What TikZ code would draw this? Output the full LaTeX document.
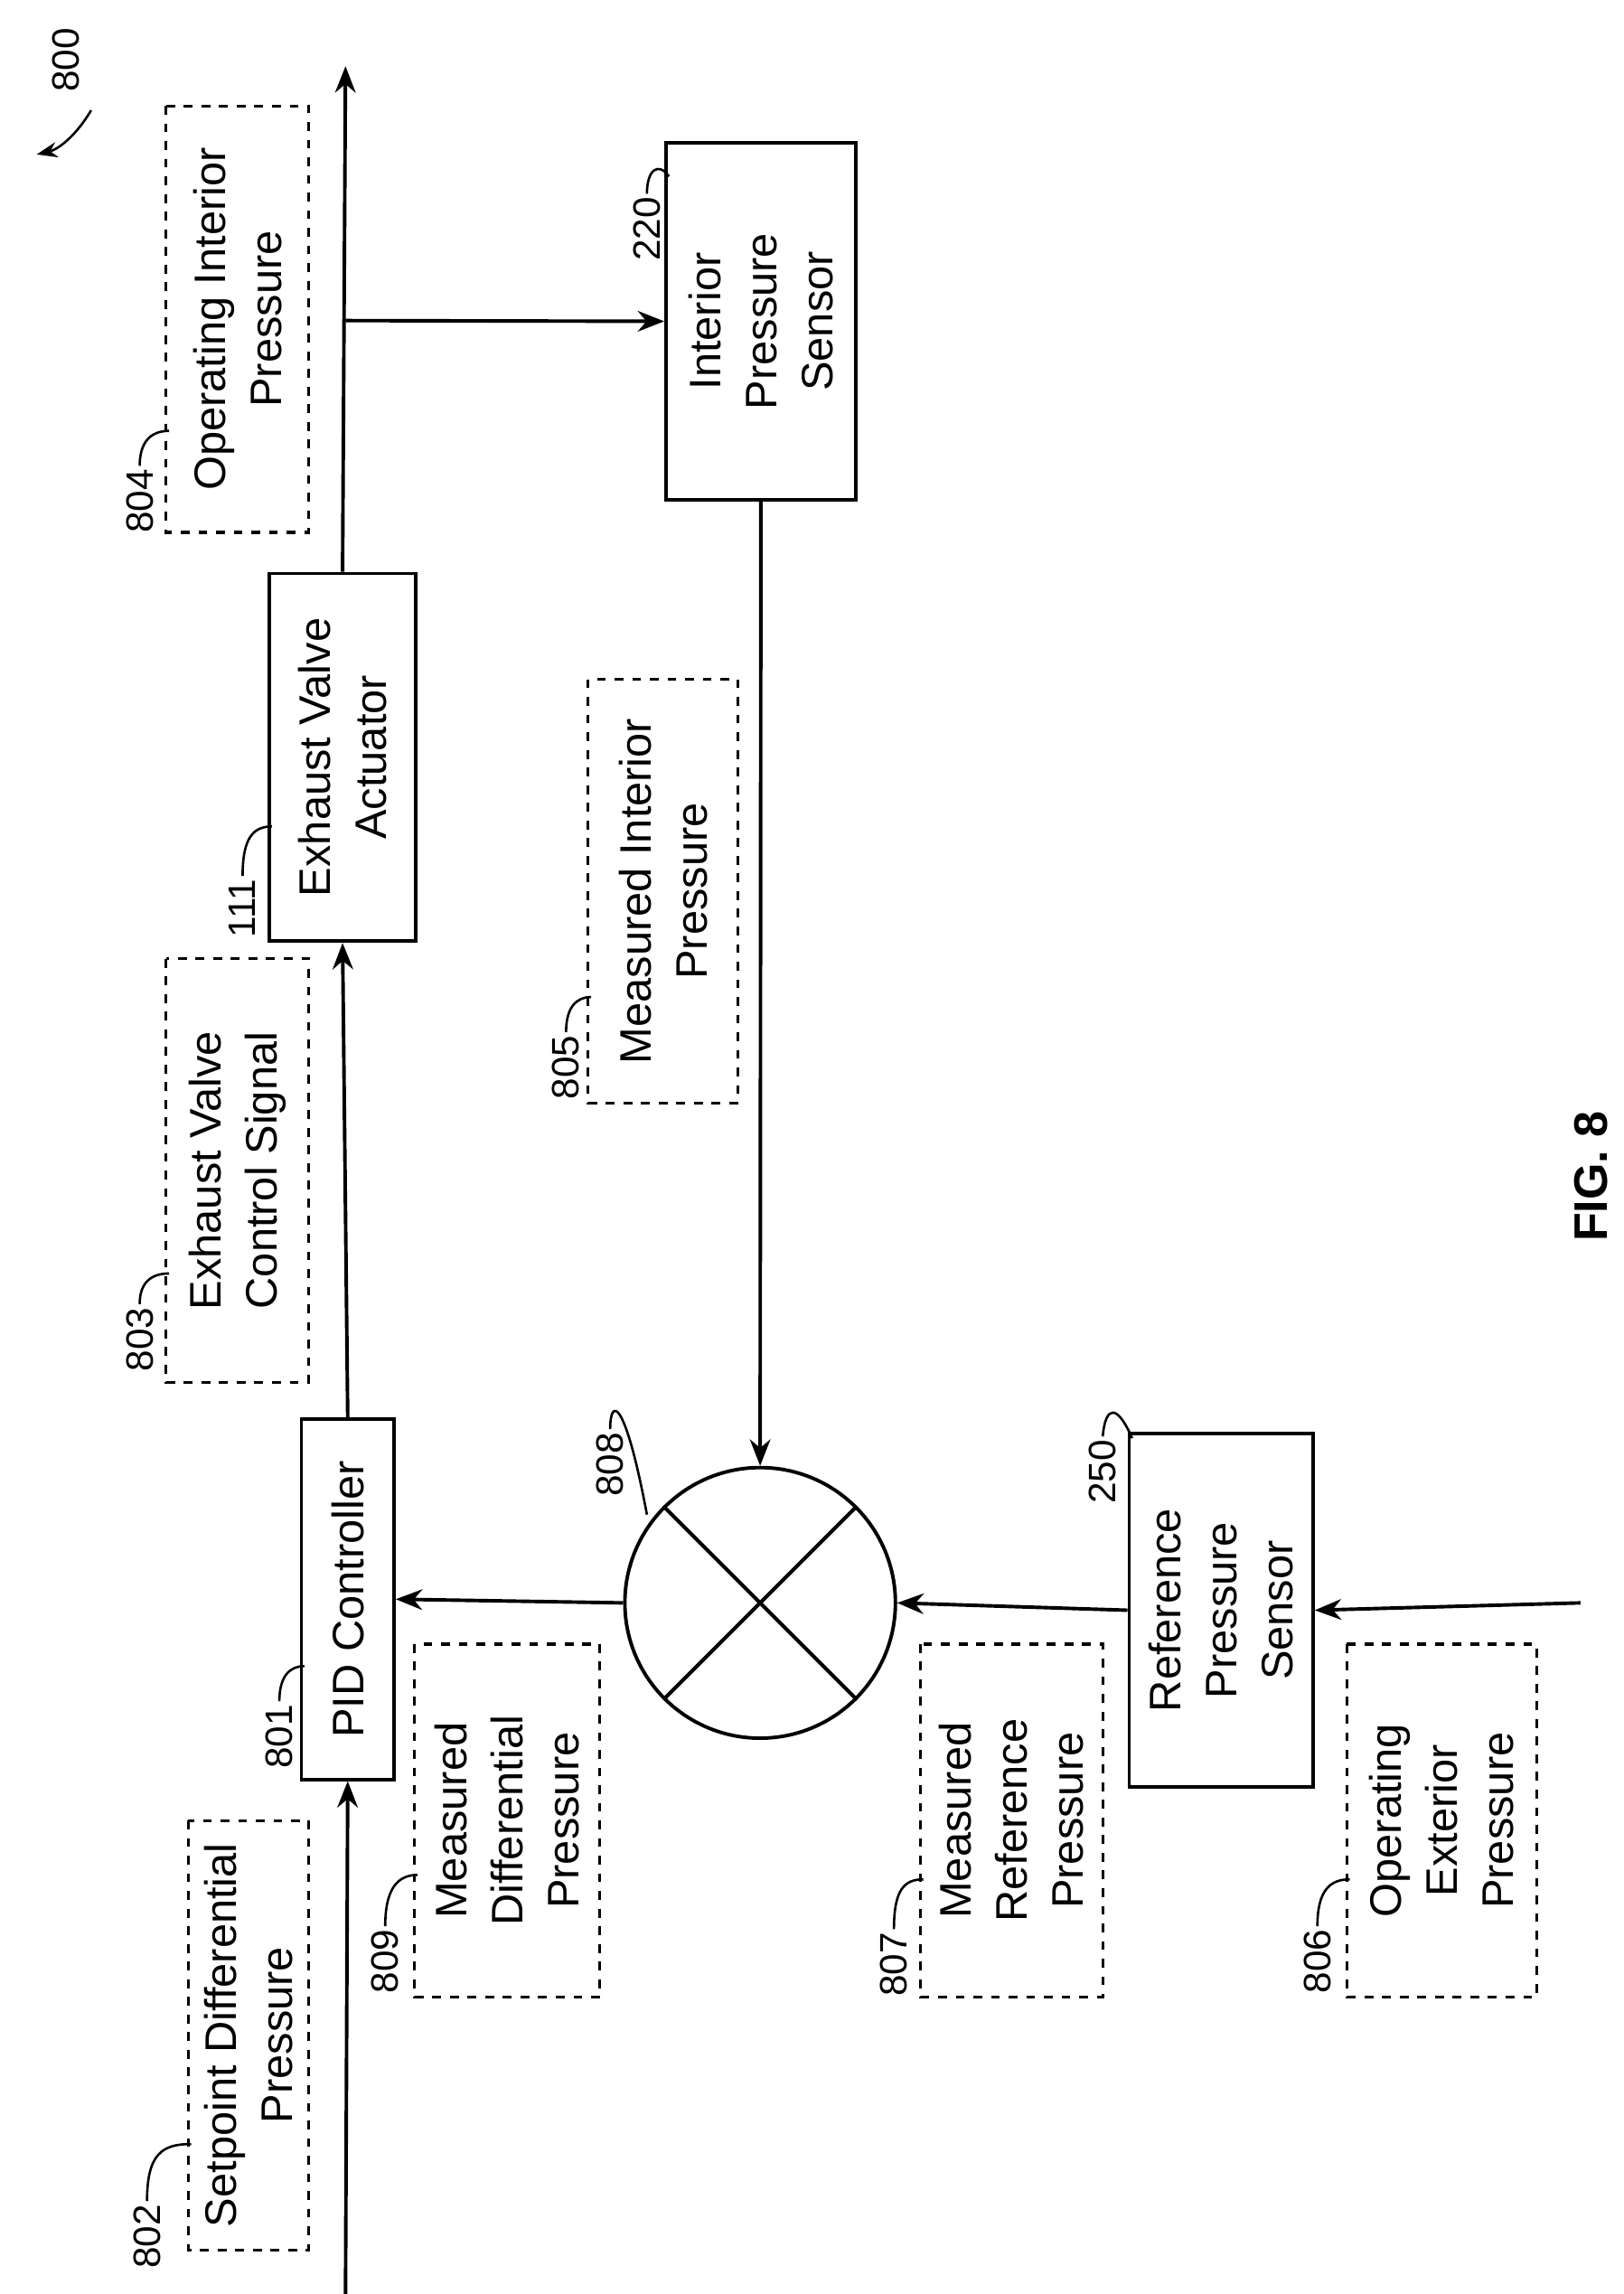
\documentclass[tikz,border=0pt]{standalone}
\usepackage{fontspec}
\setmainfont{Liberation Sans}
\usetikzlibrary{arrows.meta}
\begin{document}
\begin{tikzpicture}[x=0.5pt,y=-0.5pt,
  blk/.style={draw,line width=1.2pt,fill=white},
  dsh/.style={draw,dashed,line width=1pt},
  txt/.style={rotate=90,align=center,font=\fontsize{15}{19}\selectfont},
  num/.style={rotate=90,font=\fontsize{13}{15}\selectfont,inner sep=1pt},
  lead/.style={line width=0.8pt},
  arr/.style={line width=1.2pt,-{Stealth[length=9pt,width=7pt]}},
  ln/.style={line width=1.2pt}]
\useasboundingbox (0,0) rectangle (1104,1560);
% dashed boxes
\draw[dsh] (128,1238) rectangle (210,1530) node[midway,txt] (t802) {Setpoint Differential\\Pressure};
\draw[dsh] (282,1118) rectangle (408,1358) node[midway,txt] (t809) {Measured\\Differential\\Pressure};
\draw[dsh] (626,1118) rectangle (750,1358) node[midway,txt] (t807) {Measured\\Reference\\Pressure};
\draw[dsh] (916,1118) rectangle (1045,1358) node[midway,txt] (t806) {Operating\\Exterior\\Pressure};
\draw[dsh] (113,652) rectangle (210,940) node[midway,txt] (t803) {Exhaust Valve\\Control Signal};
\draw[dsh] (400,462) rectangle (502,750) node[midway,txt] (t805) {Measured Interior\\Pressure};
\draw[dsh] (113,72) rectangle (210,362) node[midway,txt] (t804) {Operating Interior\\Pressure};
% blocks
\node[blk,minimum width=245pt*0.5,minimum height=63pt*0.5,txt] (pid) at (236.5,1087.5) {PID Controller};
\node[blk,minimum width=250pt*0.5,minimum height=100pt*0.5,txt] (eva) at (233,515) {Exhaust Valve\\Actuator};
\node[blk,minimum width=243pt*0.5,minimum height=129pt*0.5,txt] (ips) at (517.5,218.5) {Interior\\Pressure\\Sensor};
\node[blk,minimum width=240pt*0.5,minimum height=125pt*0.5,txt] (rps) at (830.5,1095) {Reference\\Pressure\\Sensor};
\node[draw,circle,line width=1.2pt,minimum size=92pt,inner sep=0pt] (sum) at (517,1090) {};
\draw[ln] (sum.45)--(sum.225) (sum.135)--(sum.315);
% connectors
\coordinate (bot) at (235,1560);
\coordinate (top) at (235,45);
\coordinate (br) at (235,218);
\coordinate (ext) at (1075,1090);
\draw[arr] (bot)--(pid.west);
\draw[arr] (pid.east)--(eva.west);
\draw[arr] (eva.east)--(top);
\draw[arr] (br)--(ips.north);
\draw[arr] (ips.west)--(sum.north);
\draw[arr] (sum.west)--(pid.south);
\draw[arr] (rps.north)--(sum.east);
\draw[arr] (ext)--(rps.south);
% numbers
\node[num,anchor=west] (n802) at (100,1545) {802};
\draw[lead] (n802.east) .. controls (100,1465) and (110,1458) .. (130,1458);
\node[num,anchor=west] (n809) at (262,1358) {809};
\draw[lead] (n809.east) .. controls (262,1285) and (270,1275) .. (284,1275);
\node[num,anchor=west] (n807) at (608,1360) {807};
\draw[lead] (n807.east) .. controls (608,1285) and (615,1278) .. (628,1278);
\node[num,anchor=west] (n806) at (896,1358) {806};
\draw[lead] (n806.east) .. controls (896,1285) and (905,1278) .. (918,1278);
\node[num,anchor=west] (n803) at (95,935) {803};
\draw[lead] (n803.east) .. controls (95,872) and (103,866) .. (115,866);
\node[num,anchor=west] (n805) at (385,750) {805};
\draw[lead] (n805.east) .. controls (385,685) and (392,678) .. (402,678);
\node[num,anchor=west] (n804) at (95,365) {804};
\draw[lead] (n804.east) .. controls (95,300) and (103,293) .. (115,293);
\node[num,anchor=west] (n111) at (165,640) {111};
\draw[lead] (n111.east) .. controls (165,570) and (172,562) .. (185,562);
\node[num,anchor=west] (n801) at (190,1205) {801};
\draw[lead] (n801.east) .. controls (190,1140) and (197,1133) .. (207,1133);
\node[num,anchor=west] (n808) at (415,1020) {808};
\draw[lead] (n808.east) .. controls (415,950) and (425,950) .. (440,1030);
\node[num,anchor=west] (n250) at (750,1025) {250};
\draw[lead] (n250.east) .. controls (752,955) and (760,955) .. (770,978);
\node[num,anchor=west] (n220) at (440,180) {220};
\draw[lead] (n220.east) .. controls (440,115) and (448,110) .. (455,120);
\node[num,anchor=west] (n800) at (45,65) {800};
\draw[lead,-{Stealth[length=7pt]}] (62,75) .. controls (50,95) and (38,102) .. (25,105);
\node[rotate=90,font=\fontsize{16}{18}\selectfont\bfseries] (fig) at (1082,800) {FIG. 8};
\end{tikzpicture}
\end{document}
